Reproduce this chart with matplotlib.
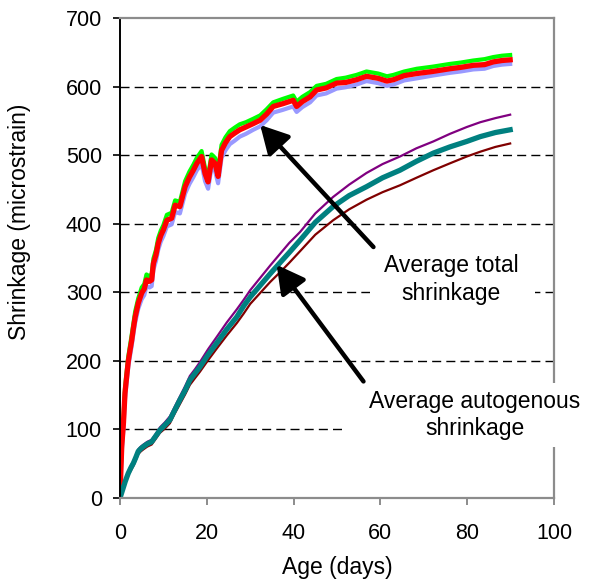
import matplotlib
matplotlib.use("Agg")
import matplotlib.pyplot as plt
from matplotlib.patches import Rectangle

plt.rcParams["font.family"] = ["Liberation Sans", "DejaVu Sans"]

# ---- Total shrinkage (three specimens) ----
total_age = [0, 0.2, 0.4, 0.8, 1.15, 1.5, 1.9, 2.3, 2.7, 3.1, 3.5, 4.2, 5.0, 5.6,
             6.1, 6.8, 7.3, 7.7, 8.3, 8.8, 9.4, 10.0, 10.8, 11.9, 12.7, 13.8,
             15.0, 16.0, 16.9, 17.7, 18.8, 19.6, 20.3, 21.1, 21.9, 22.6, 23.4,
             24.3, 25.3, 26.4, 27.6, 29.0, 30.7, 32.3, 33.8, 35.3, 37.5, 39.9,
             40.7, 42.0, 43.8, 45.3, 47.5, 49.9, 52.0, 54.5, 56.8, 59.5, 61.5,
             63.0, 65.5, 68.4, 72.0, 76.0, 78.5, 81.4, 84.0, 86.0, 88.0, 89.9]
total_red = [0, 40, 75, 110, 153, 175, 199, 215, 230, 248, 264, 284, 299, 305,
             318, 316, 318, 342, 355, 371, 383, 391, 405, 408, 427, 425,
             454, 468, 478, 488, 498, 473, 461, 493, 488, 469, 507,
             518, 527, 532, 537, 541, 546, 551, 560, 571, 575, 580,
             571, 578, 585, 595, 598, 605, 606, 610, 615, 612, 608,
             610, 616, 619, 622, 626, 628, 631, 632, 636, 638, 639]
total_green = [0, 45, 82, 118, 160, 182, 206, 222, 238, 255, 272, 291, 307, 312,
               326, 323, 327, 349, 362, 379, 390, 398, 413, 416, 434, 432,
               462, 476, 486, 496, 506, 481, 470, 501, 496, 478, 515,
               526, 535, 540, 545, 548, 553, 558, 567, 577, 582, 587,
               578, 585, 592, 601, 604, 611, 613, 617, 622, 619, 615,
               617, 622, 626, 629, 633, 635, 638, 640, 643, 645, 646]
total_blue = [0, 34, 68, 102, 145, 167, 191, 207, 222, 240, 256, 276, 290, 296,
              309, 307, 309, 333, 346, 362, 374, 382, 396, 399, 417, 415,
              444, 458, 468, 478, 487, 462, 451, 482, 477, 459, 496,
              507, 516, 521, 527, 531, 537, 542, 551, 562, 566, 571,
              563, 570, 577, 587, 590, 597, 599, 603, 608, 605, 601,
              603, 609, 612, 616, 620, 622, 625, 626, 630, 632, 633]

# ---- Autogenous shrinkage (average and two specimens) ----
auto_age = [0, 0.5, 1.2, 1.9, 2.5, 3.1, 3.7, 4.2, 4.8, 5.4, 6.3, 7.3, 8.2, 9.2,
            10.3, 11.5, 12.6, 13.8, 15.0, 16.1, 17.3, 18.4, 20.3, 22.3, 24.6,
            26.9, 28.5, 30.0, 32.3, 34.6, 37.0, 39.0, 41.5, 45.0, 49.1, 52.8,
            56.8, 60.5, 64.5, 68.3, 72.2, 76.0, 79.9, 83.0, 86.5, 89.9]
auto_teal = [0, 10, 24, 36, 44, 51, 60, 68, 72, 75, 79, 82, 90, 99,
             106, 114, 128, 143, 157, 172, 182, 191, 209, 226, 246,
             264, 280, 293, 310, 327, 344, 358, 376, 402, 425, 441,
             454, 467, 478, 491, 503, 512, 520, 527, 533, 537]
auto_purple = [0, 11, 26, 39, 47, 54, 63, 71, 75, 78, 82, 85, 93, 103,
               110, 119, 133, 148, 163, 178, 188, 198, 217, 235, 256,
               275, 289, 303, 321, 339, 357, 372, 388, 415, 439, 457,
               474, 487, 498, 510, 520, 531, 541, 548, 554, 559]
auto_darkred = [0, 9, 22, 33, 40, 47, 56, 64, 68, 71, 75, 78, 86, 95,
                101, 109, 123, 137, 151, 165, 175, 184, 201, 218, 237,
                255, 269, 283, 299, 315, 330, 343, 360, 384, 405, 421,
                435, 446, 456, 467, 478, 488, 498, 505, 512, 517]

x_ticks = [0, 20, 40, 60, 80, 100]
y_ticks = [0, 100, 200, 300, 400, 500, 600, 700]
grid_levels = [100, 200, 300, 400, 500, 600]

fig = plt.figure(figsize=(5.9, 5.83), dpi=100)
ax = fig.add_axes([120 / 590, 85 / 583, 434 / 590, 480 / 583])

for lvl in grid_levels:
    ax.axhline(lvl, color="black", lw=1.0, dashes=(6.5, 3.7), zorder=1)

ax.plot(total_age, total_blue, color="#9999FF", lw=3.0, zorder=2)
ax.plot(total_age, total_green, color="#00FF00", lw=3.0, zorder=2)
ax.plot(total_age, total_red, color="#FF0000", lw=3.8, zorder=2.1)

ax.plot(auto_age, auto_purple, color="#800080", lw=1.6, zorder=2)
ax.plot(auto_age, auto_darkred, color="#800000", lw=1.6, zorder=2)
ax.plot(auto_age, auto_teal, color="#008080", lw=3.8, zorder=2.1)

ax.set_xlim(0, 100)
ax.set_ylim(0, 700)
ax.set_xticks(x_ticks)
ax.set_yticks(y_ticks)

for side in ("top", "right", "bottom"):
    ax.spines[side].set_color("#8c8c8c")
    ax.spines[side].set_linewidth(1.6)
ax.spines["left"].set_color("black")
ax.spines["left"].set_linewidth(1.4)

ax.tick_params(axis="y", direction="out", length=5, width=1.2, colors="black",
               labelsize=15.5, pad=8)
ax.tick_params(axis="x", direction="out", length=5, width=1.4, color="#8c8c8c",
               labelcolor="black", labelsize=15.5, pad=13)

ax.set_xlabel("Age (days)", fontsize=16.5)
ax.set_ylabel("Shrinkage (microstrain)", fontsize=16.5)
ax.xaxis.set_label_coords(0.5, -0.12)
ax.yaxis.set_label_coords(-0.205, 0.575)

# White text boxes for the callouts
ax.add_patch(Rectangle((57.6, 274), 38.0, 88, facecolor="white", edgecolor="none",
                       zorder=2.8, clip_on=False))
ax.add_patch(Rectangle((51.2, 74), 57.0, 94, facecolor="white", edgecolor="none",
                       zorder=2.8, clip_on=False))

ax.text(76.3, 319, "Average total\nshrinkage", ha="center", va="center",
        fontsize=16.5, linespacing=1.25, zorder=3.5)
ax.text(81.8, 121, "Average autogenous\nshrinkage", ha="center", va="center",
        fontsize=16.5, linespacing=1.25, zorder=3.5, clip_on=False)

arrow_style = dict(arrowstyle="-|>,head_length=0.7,head_width=0.38", lw=3.2,
                   color="black", shrinkA=0, shrinkB=0, mutation_scale=24)
ax.annotate("", xy=(32.3, 544), xytext=(58.4, 366),
            arrowprops=arrow_style, zorder=4)
ax.annotate("", xy=(36.1, 340), xytext=(56.1, 170),
            arrowprops=arrow_style, zorder=4)

fig.savefig("out.png", dpi=100)
